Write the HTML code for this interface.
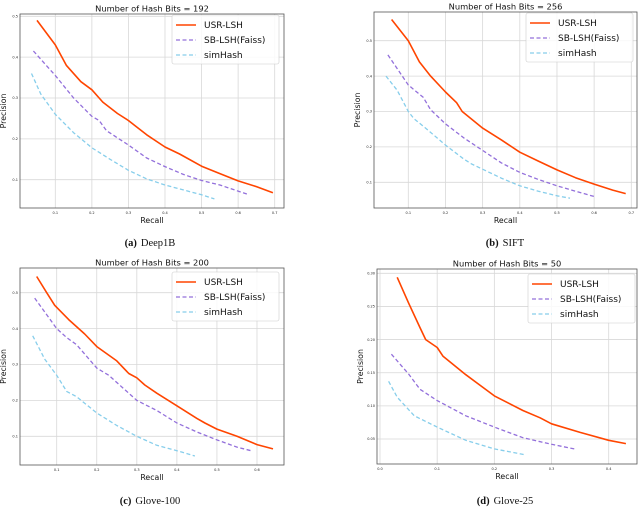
<!DOCTYPE html>
<html><head><meta charset="utf-8">
<style>
html,body{margin:0;padding:0;background:#fff;width:640px;height:511px;overflow:hidden}
svg{display:block;font-family:"DejaVu Sans","Liberation Sans",sans-serif}
</style></head>
<body>
<svg id="fig" width="640" height="511" viewBox="0 0 640 511" xmlns="http://www.w3.org/2000/svg"></svg>
<script>
// ---- Panel data ----
const titles = ["Number of Hash Bits = 192","Number of Hash Bits = 256","Number of Hash Bits = 200","Number of Hash Bits = 50"];
const captionTags = ["(a)","(b)","(c)","(d)"];
const captionNames = ["Deep1B","SIFT","Glove-100","Glove-25"];
const seriesNames = ["USR-LSH","SB-LSH(Faiss)","simHash"];

const aUsrX=[0.05,0.1,0.13,0.17,0.2,0.23,0.27,0.3,0.35,0.4,0.44,0.5,0.55,0.6,0.65,0.695];
const aUsrY=[0.49,0.43,0.38,0.34,0.32,0.29,0.262,0.245,0.21,0.18,0.163,0.133,0.115,0.097,0.083,0.068];
const aSbX=[0.04,0.1,0.15,0.2,0.22,0.24,0.3,0.35,0.4,0.45,0.5,0.55,0.6,0.63];
const aSbY=[0.415,0.355,0.3,0.255,0.245,0.22,0.185,0.153,0.132,0.113,0.098,0.087,0.072,0.063];
const aSimX=[0.035,0.06,0.1,0.15,0.2,0.25,0.3,0.35,0.4,0.45,0.5,0.535];
const aSimY=[0.36,0.31,0.26,0.215,0.178,0.15,0.123,0.102,0.087,0.075,0.063,0.053];

const bUsrX=[0.055,0.1,0.13,0.16,0.2,0.23,0.245,0.3,0.35,0.4,0.45,0.5,0.55,0.6,0.65,0.685];
const bUsrY=[0.56,0.5,0.44,0.4,0.355,0.325,0.3,0.253,0.22,0.185,0.16,0.135,0.113,0.095,0.078,0.068];
const bSbX=[0.045,0.1,0.14,0.16,0.2,0.25,0.3,0.35,0.4,0.45,0.5,0.55,0.6];
const bSbY=[0.46,0.375,0.34,0.305,0.265,0.225,0.19,0.155,0.128,0.108,0.09,0.075,0.06];
const bSimX=[0.04,0.07,0.1,0.115,0.15,0.2,0.25,0.27,0.3,0.35,0.4,0.45,0.5,0.535];
const bSimY=[0.4,0.36,0.3,0.28,0.25,0.205,0.165,0.152,0.137,0.112,0.09,0.075,0.062,0.055];

const cUsrX=[0.05,0.075,0.095,0.13,0.17,0.2,0.25,0.28,0.3,0.32,0.35,0.4,0.45,0.47,0.5,0.55,0.6,0.64];
const cUsrY=[0.545,0.5,0.465,0.425,0.385,0.35,0.31,0.275,0.263,0.243,0.22,0.185,0.15,0.137,0.12,0.1,0.077,0.065];
const cSbX=[0.045,0.1,0.125,0.15,0.2,0.23,0.3,0.35,0.4,0.45,0.5,0.55,0.585];
const cSbY=[0.485,0.4,0.375,0.355,0.29,0.27,0.2,0.172,0.137,0.112,0.09,0.07,0.06];
const cSimX=[0.04,0.07,0.1,0.125,0.15,0.2,0.25,0.3,0.35,0.4,0.445];
const cSimY=[0.38,0.315,0.27,0.225,0.21,0.165,0.13,0.1,0.075,0.06,0.045];

const dUsrX=[0.03,0.05,0.07,0.08,0.1,0.11,0.15,0.2,0.25,0.28,0.3,0.35,0.4,0.43];
const dUsrY=[0.294,0.255,0.218,0.2,0.188,0.175,0.147,0.115,0.093,0.082,0.073,0.06,0.048,0.043];
const dSbX=[0.02,0.05,0.07,0.1,0.15,0.2,0.25,0.3,0.34];
const dSbY=[0.178,0.148,0.125,0.108,0.085,0.068,0.052,0.042,0.035];
const dSimX=[0.015,0.03,0.06,0.1,0.15,0.2,0.255];
const dSimY=[0.137,0.113,0.085,0.068,0.048,0.035,0.026];

const aXTicks=[0.1,0.2,0.3,0.4,0.5,0.6,0.7];
const aYTicks=[0.1,0.2,0.3,0.4,0.5];
const bXTicks=[0.1,0.2,0.3,0.4,0.5,0.6,0.7];
const bYTicks=[0.1,0.2,0.3,0.4,0.5];
const cXTicks=[0.1,0.2,0.3,0.4,0.5,0.6];
const cYTicks=[0.1,0.2,0.3,0.4,0.5];
const dXTicks=[0.0,0.1,0.2,0.3,0.4];
const dYTicks=[0.05,0.10,0.15,0.20,0.25,0.30];

// ---- layout (positions, not data) ----
const layouts=[
 {L:20,R:284,T:14,B:208, xa:0.1,xpa:55.3,xb:0.7,xpb:274.7, ya:0.5,ypa:16.3,yb:0.1,ypb:179.7, yd:1, leg:[172,15], cx:150, cy:246},
 {L:374,R:637,T:12,B:208, xa:0.1,xpa:408.3,xb:0.7,xpb:631.3, ya:0.5,ypa:40.7,yb:0.1,ypb:182.3, yd:1, leg:[526,13], cx:505, cy:246},
 {L:20,R:284,T:268,B:465, xa:0.1,xpa:56.7,xb:0.6,xpb:257, ya:0.5,ypa:292.7,yb:0.1,ypb:436.3, yd:1, leg:[172,272], cx:150, cy:504},
 {L:377,R:637,T:269,B:464, xa:0.0,xpa:380,xb:0.4,xpb:608.7, ya:0.30,ypa:273.3,yb:0.05,ypb:439, yd:2, leg:[528,274], cx:505, cy:504}
];
const panelSeries=[[aUsrX,aUsrY,aSbX,aSbY,aSimX,aSimY],[bUsrX,bUsrY,bSbX,bSbY,bSimX,bSimY],[cUsrX,cUsrY,cSbX,cSbY,cSimX,cSimY],[dUsrX,dUsrY,dSbX,dSbY,dSimX,dSimY]];
const panelXT=[aXTicks,bXTicks,cXTicks,dXTicks];
const panelYT=[aYTicks,bYTicks,cYTicks,dYTicks];
const colors=["#ff4500","#9370db","#87ceeb"];
const dashes=[null,"4,2.5","4,2.5"];
const keys=["usr-lsh","sb-lsh","simhash"];

const NS="http://www.w3.org/2000/svg";
const svg=document.getElementById('fig');
function mk(tag,attrs,parent){const e=document.createElementNS(NS,tag);for(const k in attrs)e.setAttribute(k,attrs[k]);(parent||svg).appendChild(e);return e;}

layouts.forEach((Lo,p)=>{
  const g=mk('g',{});
  
  
  const xs=v=>Lo.xpa+(v-Lo.xa)*(Lo.xpb-Lo.xpa)/(Lo.xb-Lo.xa);
  const ys=v=>Lo.ypa+(v-Lo.ya)*(Lo.ypb-Lo.ypa)/(Lo.yb-Lo.ya);
  panelXT[p].forEach(t=>{
    const x=xs(t);
    const gl=mk('line',{x1:x,x2:x,y1:Lo.T,y2:Lo.B,stroke:'#d8d8d8','stroke-width':0.8},g);
    
    
    const tl=mk('text',{x:x,y:Lo.B+6,'font-size':3.5,'text-anchor':'middle',fill:'#222'},g);
    tl.textContent=t.toFixed(1);
    
    
  });
  panelYT[p].forEach(t=>{
    const y=ys(t);
    const gl=mk('line',{x1:Lo.L,x2:Lo.R,y1:y,y2:y,stroke:'#d8d8d8','stroke-width':0.8},g);
    
    
    const tl=mk('text',{x:Lo.L-2,y:y+1.2,'font-size':3.5,'text-anchor':'end',fill:'#222'},g);
    tl.textContent=t.toFixed(Lo.yd);
    
    
  });
  const fr=mk('rect',{x:Lo.L,y:Lo.T,width:Lo.R-Lo.L,height:Lo.B-Lo.T,fill:'none',stroke:'#555','stroke-width':0.8},g);
  
  
  const S=panelSeries[p];
  for(let s=0;s<3;s++){
    const X=S[2*s],Y=S[2*s+1];
    const d=X.map((v,i)=>(i?'L':'M')+xs(v).toFixed(1)+','+ys(Y[i]).toFixed(1)).join(' ');
    const a={d:d,fill:'none',stroke:colors[s],'stroke-width':s?1.3:1.6,'stroke-linejoin':'round'};
    if(dashes[s])a['stroke-dasharray']=dashes[s];
    const pa=mk('path',a,g);
    
    
  }
  const ti=mk('text',{x:(Lo.L+Lo.R)/2,y:Lo.T-2.5,'font-size':8.3,'text-anchor':'middle',fill:'#111'},g);
  ti.textContent=titles[p];
  
  
  const xl=mk('text',{x:(Lo.L+Lo.R)/2,y:Lo.B+15,'font-size':7.8,'text-anchor':'middle',fill:'#111'},g);
  xl.textContent='Recall';
  
  
  const yx=Lo.L-14, yy=(Lo.T+Lo.B)/2;
  const yl=mk('text',{x:yx,y:yy,'font-size':7.8,'text-anchor':'middle',fill:'#111',transform:`rotate(-90 ${yx} ${yy})`},g);
  yl.textContent='Precision';
  
  
  const [lx,ly]=Lo.leg;
  const lg=mk('g',{},g);
  
  
  mk('rect',{x:lx,y:ly,width:107,height:49,rx:2,fill:'#fff','fill-opacity':0.85,stroke:'#ccc','stroke-width':0.6},lg);
  for(let s=0;s<3;s++){
    const cy=ly+10+s*15;
    const a={x1:lx+4,x2:lx+24,y1:cy,y2:cy,stroke:colors[s],'stroke-width':s?1.3:1.6};
    if(dashes[s])a['stroke-dasharray']=dashes[s];
    const ln=mk('line',a,lg);
    
    
    const tx=mk('text',{x:lx+32,y:cy+3.2,'font-size':9,fill:'#111'},lg);
    tx.textContent=seriesNames[s];
    
    
  }
  const cp=mk('text',{x:Lo.cx,y:Lo.cy,'font-size':10.5,'text-anchor':'middle',fill:'#111','font-family':'"Liberation Serif",serif'},g);
  const t1=mk('tspan',{'font-weight':'bold'},cp); t1.textContent=captionTags[p];
  const t2=mk('tspan',{dx:4},cp); t2.textContent=captionNames[p];
  
  
});
</script>
</body></html>
